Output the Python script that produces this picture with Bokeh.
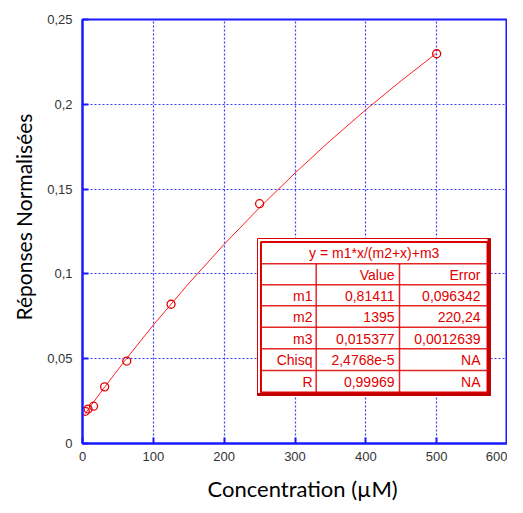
from bokeh.plotting import figure
from bokeh.models import FixedTicker, Range1d, Title
from bokeh.core.properties import value
from bokeh.embed import file_html
from bokeh.resources import INLINE

# ---- data ----
conc = [3.9, 7.8, 15.6, 31.25, 62.5, 125, 250, 500]
resp = [0.0190, 0.0203, 0.0220, 0.0334, 0.0486, 0.0821, 0.1414, 0.2298]

fit_x = [3.9, 7.8, 15.6, 31.25, 62.5, 100, 150, 200, 250, 300, 350, 400, 450, 500]
fit_y = [0.01765, 0.01990, 0.02438, 0.03322, 0.05029, 0.06983, 0.09442, 0.11746,
         0.13910, 0.15947, 0.17867, 0.19679, 0.21394, 0.23018]

x_ticks = [0, 100, 200, 300, 400, 500, 600]
x_tick_labels = ["0", "100", "200", "300", "400", "500", "600"]
y_ticks = [0, 0.05, 0.1, 0.15, 0.2, 0.25]
y_tick_labels = ["0", "0,05", "0,1", "0,15", "0,2", "0,25"]

x_title = "Concentration (µM)"
y_title = "Réponses Normalisées"

table_title = "y = m1*x/(m2+x)+m3"
table_header = ["", "Value", "Error"]
table_params = ["m1", "m2", "m3", "Chisq", "R"]
table_values = ["0,81411", "1395", "0,015377", "2,4768e-5", "0,99969"]
table_errors = ["0,096342", "220,24", "0,0012639", "NA", "NA"]

X0, X1, Y0, Y1 = 0, 600, 0, 0.25
BLUE = "#1a1aff"
GRID = "#3a3aff"
RED = "#e00000"

p = figure(output_backend="svg", toolbar_location=None,
           frame_width=425, frame_height=424,
           x_range=Range1d(X0, X1), y_range=Range1d(Y0, Y1),
           min_border_left=82, min_border_right=0, min_border_top=19, min_border_bottom=54)
p.background_fill_color = "white"
p.border_fill_color = "white"
p.outline_line_color = BLUE
p.outline_line_width = 2

for ax, ticks, labels in ((p.xaxis, x_ticks, x_tick_labels), (p.yaxis, y_ticks, y_tick_labels)):
    ax.ticker = FixedTicker(ticks=ticks)
    ax.major_label_overrides = dict(zip(ticks, labels))
    ax.axis_line_color = BLUE
    ax.axis_line_width = 2
    ax.major_tick_line_color = BLUE
    ax.major_tick_line_width = 2
    ax.major_tick_in = 6
    ax.major_tick_out = 0
    ax.minor_tick_line_color = None
    ax.major_label_text_font = "Liberation Sans"
    ax.major_label_text_font_size = "13px"
    ax.major_label_text_color = "#333333"

p.xaxis.major_label_standoff = 8
p.yaxis.major_label_standoff = 10

p.grid.grid_line_color = GRID
p.grid.grid_line_dash = "2 2"
p.grid.grid_line_width = 1.2

p.line(fit_x, fit_y, line_color="#ff2020", line_width=1)
p.scatter(conc, resp, marker="circle", size=8, fill_color=None, line_color=RED, line_width=1.3)

# axis titles as side titles (slightly off-centre, like the original)
p.add_layout(Title(text=x_title, align="left", offset=125, standoff=18,
                   text_font="Lato", text_font_size="22px", text_font_style="normal",
                   text_color="black"), "below")
p.add_layout(Title(text=y_title, align="left", offset=123, standoff=17,
                   text_font="Lato", text_font_size="21px", text_font_style="normal",
                   text_color="black"), "left")

# ---- table (page pixels -> data coords) ----
FL, FR, FT, FB = 83, 508, 19, 443
def dx(px):
    return X0 + (px - FL) / (FR - FL) * (X1 - X0)
def dy(py):
    return Y0 + (FB - py) / (FB - FT) * (Y1 - Y0)

oL, oR, oT, oB = 258, 491, 238, 395
iL, iR, iT, iB = 261.5, 488, 241.5, 392
rows = [263.3, 284.3, 305.3, 326.7, 348.3, 370]
cols = [316.7, 400]

p.quad(left=[dx(oL)], right=[dx(oR)], top=[dy(oT)], bottom=[dy(oB)],
       fill_color="white", line_color=RED, line_width=1)
p.quad(left=[dx(iL)], right=[dx(iR)], top=[dy(iT)], bottom=[dy(iB)],
       fill_color=None, line_color=RED, line_width=2)
p.segment(x0=[dx(oR - 1.5), dx(oL)], y0=[dy(oT), dy(oB - 1)],
          x1=[dx(oR - 1.5), dx(oR)], y1=[dy(oB), dy(oB - 1)],
          line_color="#c00000", line_width=3)
p.segment(x0=[dx(iL)] * len(rows), y0=[dy(r) for r in rows],
          x1=[dx(iR)] * len(rows), y1=[dy(r) for r in rows],
          line_color=RED, line_width=1.5, line_alpha=0.85)
p.segment(x0=[dx(c) for c in cols], y0=[dy(rows[0])] * 2,
          x1=[dx(c) for c in cols], y1=[dy(iB)] * 2,
          line_color=RED, line_width=1.5, line_alpha=0.85)

font = value("Liberation Sans")
p.text(x=[dx((iL + iR) / 2)], y=[dy((iT + rows[0]) / 2 + 0.5)], text=[table_title],
       text_font=font, text_font_size="14px", text_color=RED,
       text_align="center", text_baseline="middle")

centers = [(a + b) / 2 + 0.5 for a, b in zip(rows, rows[1:] + [iB])]
col_right = [313, 395, 481]
columns = [[table_header[0]] + table_params,
           [table_header[1]] + table_values,
           [table_header[2]] + table_errors]
for xr, texts in zip(col_right, columns):
    p.text(x=[dx(xr)] * len(texts), y=[dy(c) for c in centers], text=texts,
           text_font=font, text_font_size="14px", text_color=RED,
           text_align="right", text_baseline="middle")

open("out.html", "w").write(file_html(p, INLINE))
